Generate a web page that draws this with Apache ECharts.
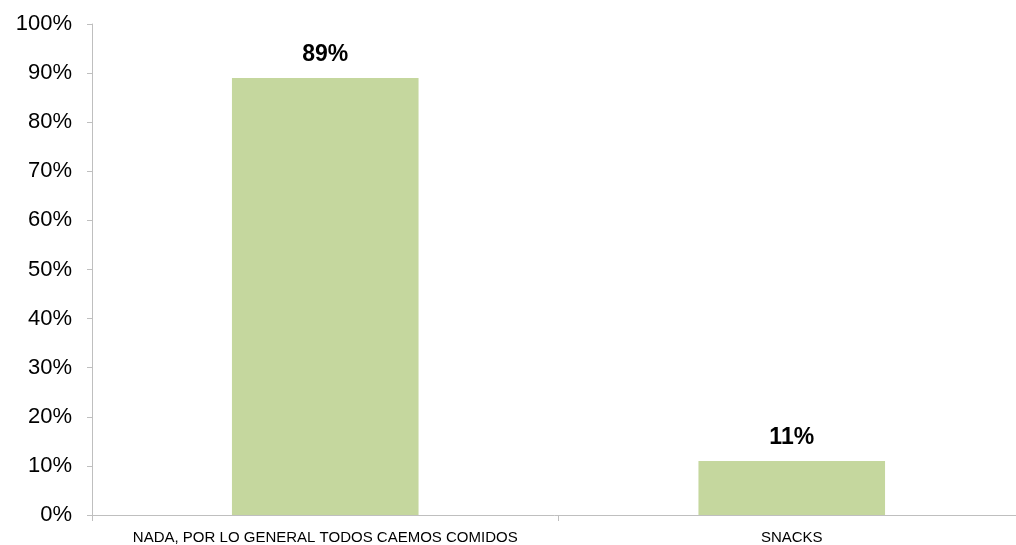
<!DOCTYPE html>
<html>
<head>
<meta charset="utf-8">
<script src="https://cdn.jsdelivr.net/npm/echarts@6/dist/echarts.min.js"></script>
<style>
  html, body { margin: 0; padding: 0; background: #fff; }
  #chart { width: 1016px; height: 545px; }
</style>
</head>
<body>
<div id="chart"></div>
<script>
var categories = ['NADA, POR LO GENERAL TODOS CAEMOS COMIDOS', 'SNACKS'];
var values = [89, 11];

var chart = echarts.init(document.getElementById('chart'));
chart.setOption({
  backgroundColor: '#ffffff',
  animation: false,
  grid: { left: 92, top: 24, width: 933, height: 491, outerBoundsMode: 'none' },
  xAxis: {
    type: 'category',
    data: categories,
    axisLine: { lineStyle: { color: '#bfbfbf', width: 1 } },
    axisTick: { show: true, interval: 0, length: 6, lineStyle: { color: '#bfbfbf' } },
    axisLabel: {
      interval: 0,
      hideOverlap: false,
      color: '#000',
      fontFamily: 'Liberation Sans, Arial, sans-serif',
      fontSize: 15,
      margin: 15
    }
  },
  yAxis: {
    type: 'value',
    min: 0,
    max: 100,
    interval: 10,
    axisLine: { show: true, lineStyle: { color: '#bfbfbf', width: 1 } },
    axisTick: { show: true, length: 5, lineStyle: { color: '#bfbfbf' } },
    splitLine: { show: false },
    axisLabel: {
      color: '#000',
      fontFamily: 'Liberation Sans, Arial, sans-serif',
      fontSize: 22,
      margin: 20,
      formatter: '{value}%'
    }
  },
  series: [{
    type: 'bar',
    data: values,
    barWidth: '40%',
    itemStyle: { color: '#c5d79e' },
    label: {
      show: true,
      position: 'top',
      distance: 12,
      color: '#000',
      fontWeight: 'bold',
      fontSize: 23,
      fontFamily: 'Liberation Sans, Arial, sans-serif',
      formatter: '{c}%'
    }
  }]
});
</script>
</body>
</html>
